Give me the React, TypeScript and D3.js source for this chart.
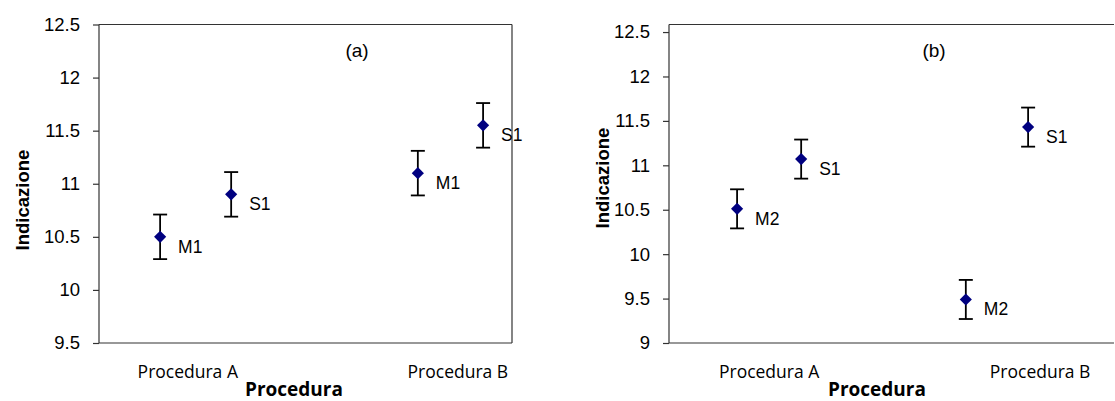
import React, { useEffect, useRef } from 'react';
import * as d3 from 'd3';

// categories (text boxes under each panel)
const categories = ['Procedura A', 'Procedura B'];

// panel (a)
const labelsA = ['M1', 'S1', 'M1', 'S1'];
const xPosA = [1.48, 3.2, 7.72, 9.3];
const meansA = [10.5, 10.9, 11.1, 11.55];
const errA = [0.21, 0.21, 0.21, 0.21];
const yTicksA = [9.5, 10, 10.5, 11, 11.5, 12, 12.5];
const catPosA = [2.15, 8.69];

// panel (b)
const labelsB = ['M2', 'S1', 'M2', 'S1'];
const xPosB = [1.53, 2.97, 6.67, 8.07];
const meansB = [10.51, 11.07, 9.49, 11.43];
const errB = [0.22, 0.22, 0.22, 0.22];
const yTicksB = [9, 9.5, 10, 10.5, 11, 11.5, 12, 12.5];
const catPosB = [2.25, 8.34];

const W = 1115;
const H = 401;

const ARIAL = 'Arial, "Liberation Sans", sans-serif';
const CALIBRI = '"Open Sans", "Noto Sans", sans-serif';

type Panel = {
  left: number;
  right: number;
  top: number;
  bottom: number;
  yDomain: [number, number];
  ticks: number[];
  xs: number[];
  means: number[];
  errs: number[];
  labels: string[];
  catPos: number[];
  tag: string;
  tagX: number;
  titleX: number;
  yTitleX: number;
  yTitleY: number;
  rightBorder: boolean;
};

const drawPanel = (svg: any, p: Panel) => {
  const x = d3.scaleLinear().domain([0, 10]).range([p.left, p.right]);
  const y = d3.scaleLinear().domain(p.yDomain).range([p.bottom, p.top]);
  const g = svg.append('g');

  // frame
  g.append('line')
    .attr('x1', p.left).attr('x2', p.right)
    .attr('y1', p.top).attr('y2', p.top)
    .attr('stroke', '#333').attr('stroke-width', 1.2);
  if (p.rightBorder) {
    g.append('line')
      .attr('x1', p.right).attr('x2', p.right)
      .attr('y1', p.top).attr('y2', p.bottom)
      .attr('stroke', '#333').attr('stroke-width', 1.2);
  }

  // y axis
  const yAxis = d3.axisLeft(y)
    .tickValues(p.ticks)
    .tickSize(6)
    .tickPadding(13)
    .tickFormat((d: any) => String(d));
  const ya = g.append('g')
    .attr('transform', `translate(${p.left},0)`)
    .call(yAxis);
  ya.select('.domain').remove();
  ya.selectAll('line').attr('stroke', '#333').attr('stroke-width', 1.2);
  ya.selectAll('text')
    .attr('fill', '#000')
    .style('font-family', ARIAL)
    .style('font-size', '18.5px');
  g.append('line')
    .attr('x1', p.left).attr('x2', p.left)
    .attr('y1', p.top).attr('y2', p.bottom)
    .attr('stroke', '#333').attr('stroke-width', 1.2);

  // bottom axis line
  g.append('line')
    .attr('x1', p.left).attr('x2', p.right)
    .attr('y1', p.bottom).attr('y2', p.bottom)
    .attr('stroke', '#333').attr('stroke-width', 1.2);

  // error bars
  const pts = p.xs.map((xv, i) => ({ x: xv, m: p.means[i], e: p.errs[i], label: p.labels[i] }));
  const bars = g.selectAll('.err').data(pts).enter().append('g').attr('class', 'err');
  bars.append('line')
    .attr('x1', (d) => x(d.x)).attr('x2', (d) => x(d.x))
    .attr('y1', (d) => y(d.m + d.e)).attr('y2', (d) => y(d.m - d.e))
    .attr('stroke', '#000').attr('stroke-width', 1.8);
  [1, -1].forEach((s) => {
    bars.append('line')
      .attr('x1', (d) => x(d.x) - 7).attr('x2', (d) => x(d.x) + 7)
      .attr('y1', (d) => y(d.m + s * d.e)).attr('y2', (d) => y(d.m + s * d.e))
      .attr('stroke', '#000').attr('stroke-width', 1.8);
  });

  // diamond markers
  const sym = d3.symbol().type(d3.symbolSquare).size(74);
  g.selectAll('.pt').data(pts).enter().append('path')
    .attr('class', 'pt')
    .attr('d', sym)
    .attr('transform', (d) => `translate(${x(d.x)},${y(d.m)}) rotate(45)`)
    .attr('fill', '#000080');

  // point labels
  g.selectAll('.lbl').data(pts).enter().append('text')
    .attr('class', 'lbl')
    .attr('x', (d) => x(d.x) + 18)
    .attr('y', (d) => y(d.m) + 16)
    .style('font-family', ARIAL)
    .style('font-size', '17.5px')
    .attr('fill', '#000')
    .text((d) => d.label);

  // category labels
  g.selectAll('.cat').data(categories).enter().append('text')
    .attr('class', 'cat')
    .attr('x', (d, i) => x(p.catPos[i]))
    .attr('y', 378)
    .attr('text-anchor', 'middle')
    .style('font-family', CALIBRI)
    .style('font-size', '17.5px')
    .attr('fill', '#000')
    .text((d) => d);

  // axis titles
  g.append('text')
    .attr('x', p.titleX)
    .attr('y', 396)
    .attr('text-anchor', 'middle')
    .style('font-family', CALIBRI)
    .style('font-size', '19px')
    .style('font-weight', 'bold')
    .attr('fill', '#000')
    .text('Procedura');

  g.append('text')
    .attr('transform', `translate(${p.yTitleX},${p.yTitleY}) rotate(-90)`)
    .attr('text-anchor', 'middle')
    .style('font-family', ARIAL)
    .style('font-size', '18.5px')
    .style('font-weight', 'bold')
    .attr('fill', '#000')
    .text('Indicazione');

  // panel tag
  g.append('text')
    .attr('x', p.tagX)
    .attr('y', 57)
    .attr('text-anchor', 'middle')
    .style('font-family', ARIAL)
    .style('font-size', '19px')
    .attr('fill', '#000')
    .text(p.tag);
};

const App = () => {
  const svgRef = useRef<SVGSVGElement>(null);

  useEffect(() => {
    const svg = d3.select(svgRef.current);
    svg.selectAll('*').remove();

    drawPanel(svg, {
      left: 99, right: 512, top: 24.5, bottom: 343,
      yDomain: [9.5, 12.5], ticks: yTicksA,
      xs: xPosA, means: meansA, errs: errA, labels: labelsA,
      catPos: catPosA, tag: '(a)', tagX: 357, titleX: 294, yTitleX: 29, yTitleY: 200,
      rightBorder: true,
    });

    drawPanel(svg, {
      left: 669, right: 1114, top: 24.5, bottom: 343,
      yDomain: [9, 12.585], ticks: yTicksB,
      xs: xPosB, means: meansB, errs: errB, labels: labelsB,
      catPos: catPosB, tag: '(b)', tagX: 934, titleX: 877, yTitleX: 609, yTitleY: 178,
      rightBorder: false,
    });
  }, []);

  return (
    <svg
      ref={svgRef}
      width={W}
      height={H}
      style={{ position: 'absolute', left: 0, top: 0, background: '#fff' }}
    />
  );
};

export default App;
